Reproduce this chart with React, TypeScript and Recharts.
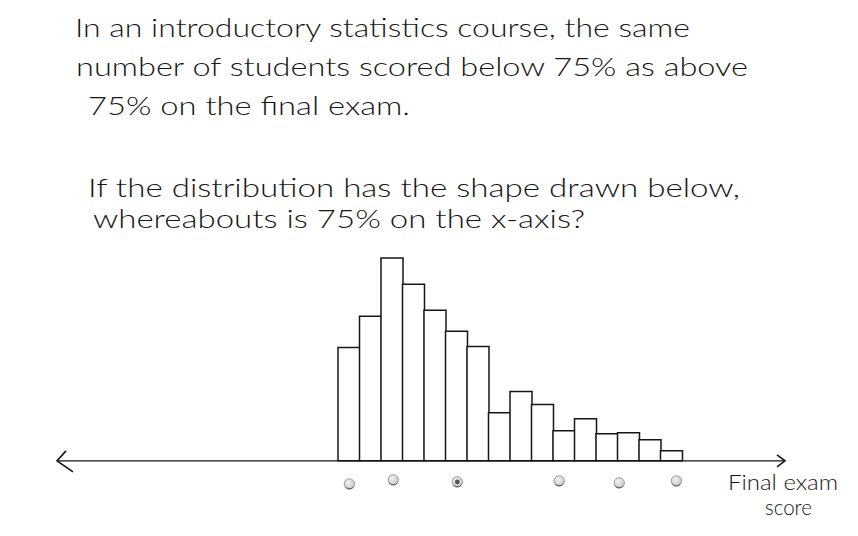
import {
  Bar,
  ComposedChart,
  ReferenceLine,
  Scatter,
  XAxis,
  YAxis,
} from "recharts";

// histogram bins (left to right) and their drawn heights
const bins = ["1", "2", "3", "4", "5", "6", "7", "8", "9", "10", "11", "12", "13", "14", "15", "16"];
const heights = [113, 144, 202, 176, 150, 129, 114, 48, 69, 56, 30, 42, 27, 28, 21, 10];

// answer choices (radio buttons) under the axis, in bin units
const choiceX = [0.53, 2.57, 5.55, 10.29, 13.08, 15.74];
const choiceY = [-23, -19, -21, -20, -22, -20];
const SELECTED = 2;

const questionLines = [
  "In an introductory statistics course, the same",
  "number of students scored below 75% as above",
  "75% on the final exam.",
  "If the distribution has the shape drawn below,",
  "whereabouts is 75% on the x-axis?",
];
const axisLabel = ["Final exam", "score"];

const histData = bins.map((b, i) => ({ bin: b, height: heights[i] }));
const choiceData = choiceX.map((x, i) => ({ x, y: choiceY[i], idx: i }));

const W = 858;
const H = 536;
const PAD = { left: 281, right: 103 };
const FONT = "Lato, 'Noto Sans', sans-serif";

const ink = "#161616";

function AxisWithArrows(p: any) {
  const { x1, y1, x2, y2 } = p;
  return (
    <g stroke={ink} fill="none" strokeWidth={1.4}>
      <line x1={x1} y1={y1} x2={x2} y2={y2} />
      <path d={`M${x1 + 9},${y1 - 10} L${x1},${y1} L${x1 + 16},${y1 + 11}`} strokeWidth={1.6} />
      <path d={`M${x2 - 8},${y2 - 6} L${x2},${y2} L${x2 - 8},${y2 + 6}`} strokeWidth={1.6} />
    </g>
  );
}

function RadioDot(p: any) {
  const { cx, cy, payload } = p;
  return (
    <g>
      <circle cx={cx} cy={cy} r={5.2} fill="url(#radioFill)" stroke="#8a8a8a" strokeWidth={0.8} />
      <path d={`M${cx - 4},${cy + 3} A5.2,5.2 0 0 0 ${cx + 4},${cy + 3}`} stroke="#444" strokeWidth={0.8} fill="none" />
      {payload.idx === SELECTED && <circle cx={cx} cy={cy} r={2.4} fill="#555" />}
    </g>
  );
}

const textBoxes = [
  { x: 75, y: 37, len: 615 },
  { x: 76, y: 76, len: 672 },
  { x: 88, y: 115, len: 322 },
  { x: 88, y: 197, len: 652 },
  { x: 93, y: 228, len: 492 },
];

export default function App() {
  return (
    <div style={{ position: "absolute", left: 0, top: 0, width: W, height: H, background: "#fff" }}>
      <ComposedChart
        width={W}
        height={H}
        data={histData}
        margin={{ top: 250, right: 73, bottom: 35, left: 57 }}
        barCategoryGap={0}
      >
        <defs>
          <radialGradient id="radioFill" cx="40%" cy="35%" r="70%">
            <stop offset="0%" stopColor="#f2f2f2" />
            <stop offset="100%" stopColor="#c4c4c4" />
          </radialGradient>
        </defs>
        <XAxis dataKey="bin" type="category" padding={PAD} hide />
        <XAxis
          xAxisId="score"
          dataKey="x"
          type="number"
          domain={[0, 16]}
          padding={PAD}
          hide
        />
        <YAxis type="number" domain={[-40, 210]} allowDataOverflow hide />
        <ReferenceLine y={0} shape={AxisWithArrows} />
        <Bar
          dataKey="height"
          fill="#fff"
          stroke={ink}
          strokeWidth={1.5}
          isAnimationActive={false}
        />
        <Scatter
          xAxisId="score"
          data={choiceData}
          dataKey="y"
          shape={RadioDot}
          isAnimationActive={false}
        />
      </ComposedChart>
      <svg
        width={W}
        height={H}
        style={{ position: "absolute", left: 0, top: 0, pointerEvents: "none" }}
      >
        <g fontFamily={FONT} fontWeight={300} fontSize={26} fill={ink}>
          {questionLines.map((t, i) => (
            <text
              key={i}
              x={textBoxes[i].x}
              y={textBoxes[i].y}
              textLength={textBoxes[i].len}
              lengthAdjust="spacingAndGlyphs"
            >
              {t}
            </text>
          ))}
        </g>
        <g fontFamily={FONT} fontWeight={300} fontSize={22} fill={ink}>
          <text x={728} y={490} textLength={110} lengthAdjust="spacingAndGlyphs">
            {axisLabel[0]}
          </text>
          <text x={765} y={515} textLength={47} lengthAdjust="spacingAndGlyphs">
            {axisLabel[1]}
          </text>
        </g>
      </svg>
    </div>
  );
}
